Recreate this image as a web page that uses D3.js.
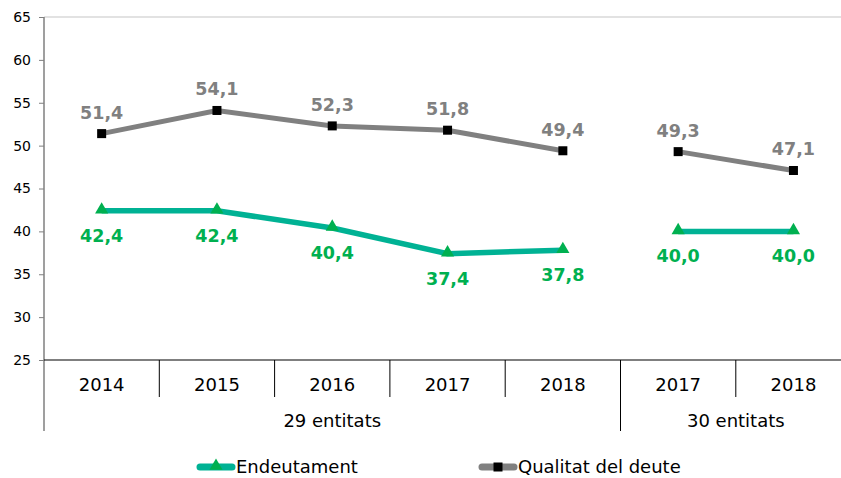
<!DOCTYPE html>
<html>
<head>
<meta charset="utf-8">
<script src="https://cdn.jsdelivr.net/npm/d3@7"></script>
<style>
  html, body { margin: 0; padding: 0; background: #fff; }
  svg { display: block; font-family: "DejaVu Sans", Verdana, sans-serif; }
</style>
</head>
<body>
<svg id="chart" width="841" height="478"></svg>
<script>
// Categories (two groups of entities)
const categories = ["2014", "2015", "2016", "2017", "2018", "2017b", "2018b"];
const categoryLabels = ["2014", "2015", "2016", "2017", "2018", "2017", "2018"];
const groups = [
  { label: "29 entitats", from: 0, to: 4 },
  { label: "30 entitats", from: 5, to: 6 }
];
const qualitat = [51.4, 54.1, 52.3, 51.8, 49.4, 49.3, 47.1];
const endeutament = [42.4, 42.4, 40.4, 37.4, 37.8, 40.0, 40.0];
const yTicks = [25, 30, 35, 40, 45, 50, 55, 60, 65];

(function () {
const svg = d3.select("#chart");
const plotLeft = 44, plotTop = 17, plotBottom = 360;
const bandW = 115.3;
const plotRight = plotLeft + bandW * categories.length;

const x = d3.scaleBand().domain(categories).range([plotLeft, plotRight]).padding(0);
const y = d3.scaleLinear().domain([25, 65]).range([plotBottom, plotTop]);
const cx = c => x(c) + x.bandwidth() / 2;
const fmt = v => d3.format(".1f")(v).replace(".", ",");

// top gridline
svg.append("line")
  .attr("x1", plotLeft).attr("x2", plotRight)
  .attr("y1", y(65)).attr("y2", y(65))
  .attr("stroke", "#d9d9d9").attr("stroke-width", 1.5);

// y axis
const yAxis = svg.append("g")
  .attr("transform", `translate(${plotLeft},0)`)
  .call(d3.axisLeft(y).tickValues(yTicks).tickSize(5).tickPadding(8));
yAxis.select(".domain").remove();
yAxis.selectAll(".tick line").attr("stroke", "#7f7f7f");
yAxis.selectAll(".tick text")
  .attr("font-size", 14).attr("fill", "#000")
  .attr("font-family", "DejaVu Sans, Verdana, sans-serif");
svg.append("line")
  .attr("x1", plotLeft).attr("x2", plotLeft)
  .attr("y1", plotTop).attr("y2", 431)
  .attr("stroke", "#7f7f7f").attr("stroke-width", 1.5);

// x axis baseline
svg.append("line")
  .attr("x1", plotLeft).attr("x2", plotRight)
  .attr("y1", plotBottom).attr("y2", plotBottom)
  .attr("stroke", "#000").attr("stroke-width", 1.2);

// category separators
categories.forEach((c, i) => {
  if (i === 0) return;
  const isGroupEdge = groups.some(g => g.from === i);
  svg.append("line")
    .attr("x1", x(c)).attr("x2", x(c))
    .attr("y1", plotBottom).attr("y2", isGroupEdge ? 431 : 397)
    .attr("stroke", "#000").attr("stroke-width", 1);
});

// category labels
svg.append("g").selectAll("text")
  .data(categories)
  .join("text")
  .attr("x", d => cx(d))
  .attr("y", 391)
  .attr("text-anchor", "middle")
  .attr("font-size", 18)
  .attr("fill", "#000")
  .text((d, i) => categoryLabels[i]);

// group labels
svg.append("g").selectAll("text")
  .data(groups)
  .join("text")
  .attr("x", g => (x(categories[g.from]) + x(categories[g.to]) + x.bandwidth()) / 2)
  .attr("y", 427)
  .attr("text-anchor", "middle")
  .attr("font-size", 18)
  .attr("fill", "#000")
  .text(g => g.label);

const grayLine = "#808080", greenLine = "#00b294", greenMark = "#00b050";

function segments(values) {
  return groups.map(g => d3.range(g.from, g.to + 1).map(i => ({ c: categories[i], v: values[i] })));
}
const line = d3.line().x(d => cx(d.c)).y(d => y(d.v));

// Qualitat del deute
svg.append("g").selectAll("path")
  .data(segments(qualitat))
  .join("path")
  .attr("d", line)
  .attr("fill", "none")
  .attr("stroke", grayLine)
  .attr("stroke-width", 5);
svg.append("g").selectAll("rect")
  .data(categories)
  .join("rect")
  .attr("x", (d) => cx(d) - 4.5)
  .attr("y", (d, i) => y(qualitat[i]) - 4.5)
  .attr("width", 9).attr("height", 9)
  .attr("fill", "#000");
svg.append("g").selectAll("text")
  .data(categories)
  .join("text")
  .attr("x", d => cx(d))
  .attr("y", (d, i) => y(qualitat[i]) - 15)
  .attr("text-anchor", "middle")
  .attr("font-size", 17.5)
  .attr("font-weight", "bold")
  .attr("fill", grayLine)
  .text((d, i) => fmt(qualitat[i]));

// Endeutament
svg.append("g").selectAll("path")
  .data(segments(endeutament))
  .join("path")
  .attr("d", line)
  .attr("fill", "none")
  .attr("stroke", greenLine)
  .attr("stroke-width", 5.5);
const tri = d3.symbol().type(d3.symbolTriangle).size(75);
svg.append("g").selectAll("path")
  .data(categories)
  .join("path")
  .attr("d", tri)
  .attr("transform", (d, i) => `translate(${cx(d)},${y(endeutament[i]) - 1})`)
  .attr("fill", greenMark);
svg.append("g").selectAll("text")
  .data(categories)
  .join("text")
  .attr("x", d => cx(d))
  .attr("y", (d, i) => y(endeutament[i]) + 31)
  .attr("text-anchor", "middle")
  .attr("font-size", 17.5)
  .attr("font-weight", "bold")
  .attr("fill", greenMark)
  .text((d, i) => fmt(endeutament[i]));

// legend
const legend = [
  { name: "Endeutament", x0: 197, color: greenLine, marker: "tri" },
  { name: "Qualitat del deute", x0: 479, color: grayLine, marker: "sq" }
];
const ly = 467;
legend.forEach(l => {
  const g = svg.append("g");
  g.append("line")
    .attr("x1", l.x0 + 3).attr("x2", l.x0 + 35)
    .attr("y1", ly).attr("y2", ly)
    .attr("stroke", l.color).attr("stroke-width", 7)
    .attr("stroke-linecap", "round");
  if (l.marker === "tri") {
    g.append("path").attr("d", tri)
      .attr("transform", `translate(${l.x0 + 19},${ly - 1})`)
      .attr("fill", greenMark);
  } else {
    g.append("rect").attr("x", l.x0 + 14.5).attr("y", ly - 4.5)
      .attr("width", 9).attr("height", 9).attr("fill", "#000");
  }
  g.append("text")
    .attr("x", l.x0 + 39).attr("y", ly + 6)
    .attr("font-size", 18).attr("fill", "#000")
    .text(l.name);
});
})();
</script>
</body>
</html>
